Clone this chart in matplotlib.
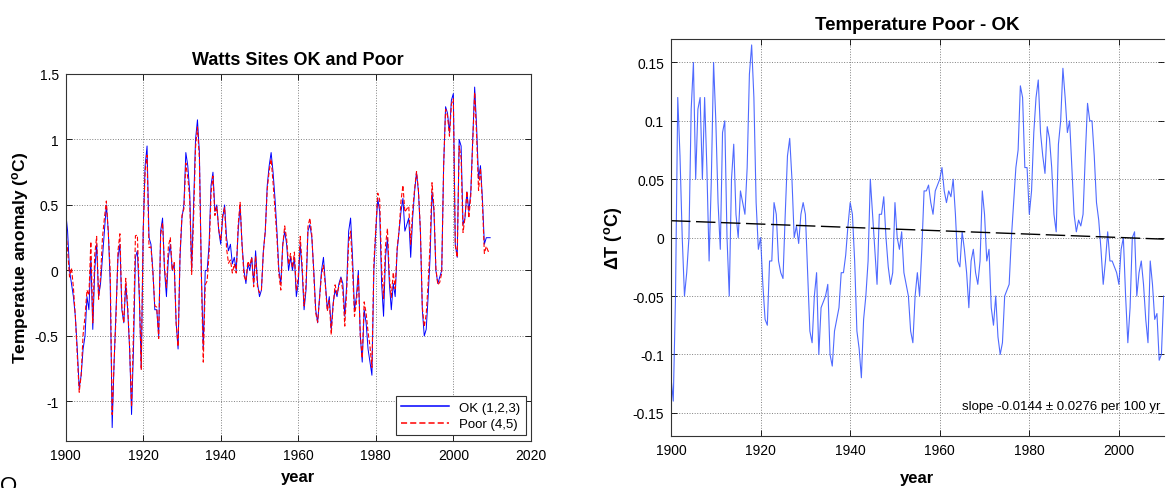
import numpy as np
import matplotlib
matplotlib.use("Agg")
import matplotlib.pyplot as plt

plt.rcParams['font.family'] = ['Liberation Sans', 'DejaVu Sans']
plt.rcParams['mathtext.fontset'] = 'custom'
plt.rcParams['mathtext.rm'] = 'Liberation Sans'
plt.rcParams['mathtext.bf'] = 'Liberation Sans:bold'

# half-year steps, 1900.0 .. 2009.5 for the OK sites
ok_years = np.arange(1900.0, 2010.0, 0.5)
ok = np.array([
    0.45, 0.3, 0.0, -0.1, -0.2, -0.35, -0.6, -0.9, -0.8, -0.6,   # 1900-1904.5
    -0.5, -0.2, -0.3, 0.1, -0.45, 0.0, 0.2, -0.2, -0.1, 0.1,     # 1905-1909.5
    0.3, 0.5, 0.3, -0.1, -1.2, -0.7, -0.3, 0.1, 0.2, -0.3,       # 1910-1914.5
    -0.4, -0.1, -0.3, -0.6, -1.1, -0.6, 0.1, 0.15, -0.2, -0.75,  # 1915-1919.5
    0.3, 0.8, 0.95, 0.25, 0.2, 0.0, -0.3, -0.3, -0.5, 0.3,       # 1920-1924.5
    0.4, 0.0, -0.2, 0.1, 0.2, 0.0, 0.05, -0.4, -0.6, 0.1,        # 1925-1929.5
    0.4, 0.5, 0.9, 0.8, 0.6, 0.0, 0.5, 1.0, 1.15, 0.9,           # 1930-1934.5
    0.0, -0.6, 0.0, 0.0, 0.2, 0.65, 0.75, 0.45, 0.5, 0.3,        # 1935-1939.5
    0.2, 0.4, 0.5, 0.25, 0.15, 0.2, 0.05, 0.1, 0.0, 0.3,         # 1940-1944.5
    0.5, 0.2, 0.0, -0.1, 0.05, 0.0, 0.1, -0.1, 0.15, -0.1,       # 1945-1949.5
    -0.2, -0.15, 0.15, 0.3, 0.65, 0.8, 0.9, 0.75, 0.55, 0.3,     # 1950-1954.5
    0.0, -0.1, 0.2, 0.3, 0.2, 0.0, 0.1, 0.0, 0.1, -0.2,          # 1955-1959.5
    -0.1, 0.2, 0.0, -0.3, -0.15, 0.3, 0.35, 0.25, 0.0, -0.3,     # 1960-1964.5
    -0.4, -0.2, 0.0, 0.1, -0.1, -0.3, -0.2, -0.45, -0.25, -0.15, # 1965-1969.5
    -0.2, -0.1, -0.05, -0.1, -0.35, -0.1, 0.3, 0.4, 0.1, -0.3,   # 1970-1974.5
    -0.2, 0.0, -0.5, -0.7, -0.3, -0.4, -0.6, -0.7, -0.8, 0.0,    # 1975-1979.5
    0.3, 0.55, 0.45, -0.1, -0.35, 0.1, 0.25, -0.1, -0.3, -0.1,   # 1980-1984.5
    -0.2, 0.15, 0.3, 0.45, 0.55, 0.3, 0.35, 0.4, 0.1, 0.4,       # 1985-1989.5
    0.6, 0.75, 0.6, 0.3, -0.3, -0.5, -0.45, -0.2, 0.1, 0.6,      # 1990-1994.5
    0.45, 0.0, -0.1, -0.05, 0.0, 0.8, 1.25, 1.2, 1.05, 1.3,      # 1995-1999.5
    1.35, 0.2, 0.1, 1.0, 0.95, 0.35, 0.4, 0.6, 0.45, 0.6,        # 2000-2004.5
    1.0, 1.4, 1.1, 0.7, 0.8, 0.55, 0.2, 0.25, 0.25, 0.25,        # 2005-2009.5
])

# Poor - OK, half-year steps 1900.0 .. 2010.0
diff_years = np.arange(1900.0, 2010.5, 0.5)
diff = np.array([
    -0.12, -0.14, -0.05, 0.12, 0.07, 0.0, -0.05, -0.03, 0.0, 0.11,        # 1900-1904.5
    0.15, 0.05, 0.11, 0.12, 0.05, 0.12, 0.06, -0.02, 0.05, 0.15,          # 1905-1909.5
    0.10, 0.03, -0.01, 0.09, 0.10, 0.0, -0.05, 0.05, 0.08, 0.02,          # 1910-1914.5
    0.0, 0.04, 0.03, 0.02, 0.06, 0.14, 0.165, 0.12, 0.03, -0.01,          # 1915-1919.5
    0.0, -0.04, -0.07, -0.075, -0.02, -0.02, 0.03, 0.02, -0.02, -0.03,    # 1920-1924.5
    -0.035, 0.02, 0.07, 0.085, 0.05, 0.0, 0.01, -0.005, 0.02, 0.03,       # 1925-1929.5
    0.02, -0.03, -0.08, -0.09, -0.05, -0.03, -0.1, -0.06, -0.055, -0.05,  # 1930-1934.5
    -0.04, -0.1, -0.11, -0.08, -0.07, -0.06, -0.03, -0.03, -0.015, 0.01,  # 1935-1939.5
    0.03, 0.02, -0.02, -0.08, -0.095, -0.12, -0.07, -0.05, -0.02, 0.05,   # 1940-1944.5
    0.02, -0.01, -0.04, 0.02, 0.02, 0.035, 0.0, -0.025, -0.04, -0.03,     # 1945-1949.5
    0.03, 0.0, -0.01, 0.005, -0.03, -0.04, -0.05, -0.08, -0.09, -0.05,    # 1950-1954.5
    -0.03, -0.05, -0.01, 0.04, 0.04, 0.045, 0.03, 0.02, 0.04, 0.045,      # 1955-1959.5
    0.05, 0.06, 0.04, 0.03, 0.04, 0.035, 0.05, 0.02, -0.02, -0.025,       # 1960-1964.5
    0.005, -0.01, -0.03, -0.06, -0.02, -0.01, -0.03, -0.04, -0.02, 0.04,  # 1965-1969.5
    0.02, -0.02, -0.01, -0.06, -0.075, -0.05, -0.085, -0.1, -0.09, -0.05, # 1970-1974.5
    -0.045, -0.04, 0.0, 0.03, 0.06, 0.075, 0.13, 0.12, 0.06, 0.06,        # 1975-1979.5
    0.02, 0.04, 0.09, 0.12, 0.135, 0.09, 0.07, 0.055, 0.095, 0.085,       # 1980-1984.5
    0.06, 0.02, 0.005, 0.08, 0.1, 0.145, 0.12, 0.09, 0.1, 0.06,           # 1985-1989.5
    0.02, 0.005, 0.015, 0.01, 0.02, 0.07, 0.115, 0.1, 0.1, 0.07,          # 1990-1994.5
    0.03, 0.015, -0.01, -0.04, -0.02, 0.005, -0.02, -0.02, -0.025, -0.03, # 1995-1999.5
    -0.04, -0.01, 0.0, -0.05, -0.09, -0.06, 0.0, 0.005, -0.05, -0.03,     # 2000-2004.5
    -0.02, -0.04, -0.07, -0.09, -0.02, -0.04, -0.07, -0.065, -0.105, -0.1, # 2005-2009.5
    -0.05,                                                                 # 2010
])

# Poor sites = OK sites + (Poor - OK)
poor = ok + diff[:len(ok)]

trend_years = [1900, 2010]
trend_vals = [0.0145, -0.0013]

fig = plt.figure(figsize=(11.66, 4.89), dpi=100)

grid_kw = dict(color='#808080', linestyle=':', linewidth=0.7)

# ---- left panel
ax1 = fig.add_axes([0.0563, 0.0967, 0.399, 0.75])
ax1.plot(ok_years, ok, color='#0000ff', linewidth=0.7, label='OK (1,2,3)')
ax1.plot(ok_years, poor, color='#ff0000', linewidth=0.8, linestyle='--',
         dashes=(4, 2), label='Poor (4,5)')
ax1.set_xlim(1900, 2020)
ax1.set_ylim(-1.3, 1.5)
ax1.set_xticks([1900, 1920, 1940, 1960, 1980, 2000, 2020])
ax1.set_yticks([-1, -0.5, 0, 0.5, 1, 1.5])
ax1.set_yticklabels(['-1', '-0.5', '0', '0.5', '1', '1.5'])
ax1.grid(True, **grid_kw)
ax1.set_title('Watts Sites OK and Poor', fontsize=13, fontweight='bold', pad=7)
ax1.set_xlabel('year', fontsize=12, fontweight='bold', labelpad=5)
ax1.set_ylabel(r'Temperatue anomaly ($\mathbf{^o}$C)', fontsize=12.5,
               fontweight='bold', labelpad=3)
leg = ax1.legend(loc='lower right', fontsize=9.5, handlelength=3.6,
                 fancybox=False, framealpha=1, edgecolor='#333333',
                 borderaxespad=0.4, labelspacing=0.3)
leg.get_frame().set_linewidth(0.8)
for h in leg.get_lines():
    h.set_linewidth(1.1)

# ---- right panel
ax2 = fig.add_axes([0.5755, 0.106, 0.4225, 0.812])
ax2.plot(diff_years, diff, color='#3050ff', linewidth=0.8, alpha=0.85)
ax2.plot(trend_years, trend_vals, color='black', linewidth=1.0,
         linestyle=(0, (14, 4)))
ax2.set_xlim(1900, 2010)
ax2.set_ylim(-0.17, 0.17)
ax2.set_xticks([1900, 1920, 1940, 1960, 1980, 2000])
ax2.set_yticks([-0.15, -0.1, -0.05, 0, 0.05, 0.1, 0.15])
ax2.set_yticklabels(['-0.15', '-0.1', '-0.05', '0', '0.05', '0.1', '0.15'])
ax2.grid(True, **grid_kw)
ax2.spines['right'].set_visible(False)
ax2.set_title('Temperature Poor - OK', fontsize=13.5, fontweight='bold', pad=7)
ax2.set_xlabel('year', fontsize=12, fontweight='bold', labelpad=9)
ax2.set_ylabel(r'$\mathbf{\Delta}$T ($\mathbf{^o}$C)', fontsize=13,
               fontweight='bold', labelpad=6)
ax2.text(0.993, 0.075, 'slope -0.0144 \u00b1 0.0276 per 100 yr',
         transform=ax2.transAxes, ha='right', va='center', fontsize=9.5)

for ax in (ax1, ax2):
    ax.tick_params(direction='in', length=4, width=0.6, labelsize=10,
                   top=True, right=True, pad=5)
    for s in ax.spines.values():
        s.set_linewidth(0.8)
        s.set_color('#333333')

fig.text(0.0, 0.027, 'O', fontsize=16, ha='left', va='top')

fig.savefig('out.png', dpi=100)
